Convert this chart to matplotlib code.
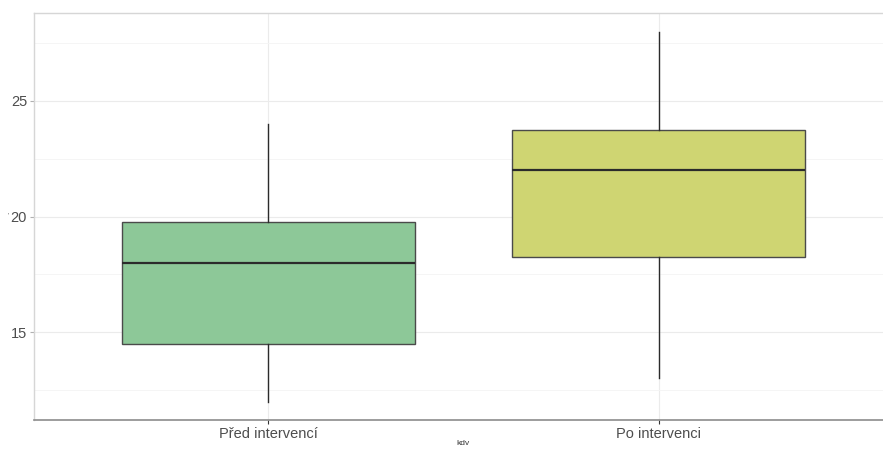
import matplotlib
matplotlib.use("Agg")
import matplotlib.pyplot as plt
from matplotlib.ticker import MultipleLocator

plt.rcParams['font.family'] = ['Liberation Sans', 'DejaVu Sans']

groups = ['Před intervencí', 'Po intervenci']
whisker_low = [12, 13]
q1 = [14.5, 18.25]
median = [18, 22]
q3 = [19.75, 23.75]
whisker_high = [24, 28]
colors = ['#8dc898', '#cfd572']

stats = []
for i, g in enumerate(groups):
    stats.append({'label': g, 'whislo': whisker_low[i], 'q1': q1[i], 'med': median[i],
                  'q3': q3[i], 'whishi': whisker_high[i], 'fliers': []})

fig = plt.figure(figsize=(8.83, 4.49), dpi=100)
# panel runs a little past the right edge of the figure
ax = fig.add_axes([34 / 883, 1 - 420 / 449, (893 - 34) / 883, (420 - 13) / 449])

ax.set_axisbelow(True)
ax.yaxis.set_major_locator(MultipleLocator(5))
ax.yaxis.set_minor_locator(MultipleLocator(2.5))
ax.grid(which='major', axis='both', color='#ebebeb', linewidth=0.8)
ax.grid(which='minor', axis='y', color='#f4f4f4', linewidth=0.6)

bp = ax.bxp(stats, positions=[0, 1], widths=0.75, patch_artist=True,
            showcaps=False, showfliers=False,
            boxprops=dict(edgecolor='#4a4a4a', linewidth=1.0),
            medianprops=dict(color='#2b2b2b', linewidth=1.6),
            whiskerprops=dict(color='#2b2b2b', linewidth=1.0))
for patch, c in zip(bp['boxes'], colors):
    patch.set_facecolor(c)

ax.set_xlim(-0.6, 1.6)
ax.set_ylim(11.2, 28.8)
ax.set_xticks([0, 1])
ax.set_xticklabels(groups)

for side in ['top', 'right', 'left']:
    ax.spines[side].set_color('#d6d6d6')
    ax.spines[side].set_linewidth(1.0)
ax.spines['bottom'].set_color('#8c8c8c')
ax.spines['bottom'].set_linewidth(1.2)

ax.tick_params(axis='y', which='major', length=3, color='#b0b0b0', labelsize=10.5,
               labelcolor='#4d4d4d', pad=2)
ax.tick_params(axis='y', which='minor', length=0)
ax.tick_params(axis='x', length=3, color='#333333', labelsize=10.5,
               labelcolor='#4d4d4d', pad=2)

ax.set_xlabel('kdv', fontsize=6, color='#333333')
ax.xaxis.set_label_coords(0.4994, -0.048)
ax.set_ylabel('.', fontsize=6, color='#333333')
ax.yaxis.set_label_coords(-0.026, 0.51)

fig.savefig('out.png', dpi=100)
